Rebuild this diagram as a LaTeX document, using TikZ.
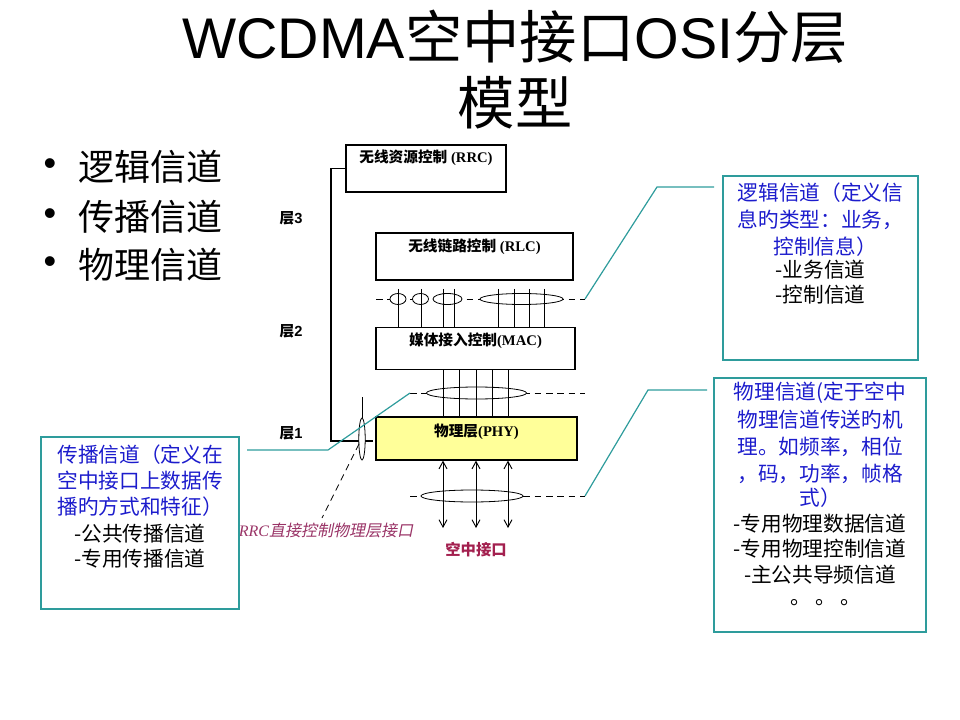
\documentclass[tikz,border=0pt]{standalone}
\usepackage{fontspec}
\setmainfont{Liberation Sans}
\newfontfamily\cjk{Noto Sans CJK SC}
\newfontfamily\tms{Liberation Serif}
\newfontfamily\cjkit[FakeSlant=0.2]{Noto Sans CJK SC}
\usetikzlibrary{arrows.meta}
\definecolor{tealline}{HTML}{2E9C9C}
\definecolor{blueText}{HTML}{1C1CCC}
\definecolor{italRed}{HTML}{993366}
\definecolor{airRed}{HTML}{A3204F}
\definecolor{phyYellow}{HTML}{FFFF99}
\newcommand\lyr[2]{{\cjk\bfseries #1}{\tms\bfseries #2}}
\begin{document}
\begin{tikzpicture}[x=0.75pt,y=-0.75pt,
  layerbox/.style={draw=black, line width=0.9pt, inner sep=0pt},
  lyrtxt/.style={font=\fontsize{11}{13}\selectfont, inner sep=0pt},
  chan/.style={line width=0.6pt},
  dsh/.style={line width=0.6pt, dash pattern=on 5pt off 3.5pt},
  ell/.style={draw=black, fill=white, line width=0.6pt},
  callout/.style={draw=tealline, line width=0.9pt},
  infobox/.style={draw=tealline, line width=1pt, inner sep=0pt},
  bl/.style={font=\cjk\fontsize{15.5}{18}\selectfont, text=blueText, inner sep=0pt},
  bk/.style={font=\cjk\fontsize{15.5}{18}\selectfont, text=black, inner sep=0pt},
  bullet/.style={font=\fontsize{27}{30}\selectfont, inner sep=0pt},
  btxt/.style={font=\cjk\fontsize{27}{30}\selectfont, inner sep=0pt, anchor=west},
  layerlbl/.style={font=\fontsize{11}{13}\selectfont, inner sep=0pt},
  airarrow/.style={line width=0.7pt, {Straight Barb[length=5.5pt,width=6pt]}-{Straight Barb[length=5.5pt,width=6pt]}}
]
\useasboundingbox (0,0) rectangle (960,720);

% Title
\node[font=\fontsize{43}{50}\selectfont, inner sep=0pt] (title1) at (515,37) {WCDMA{\cjk 空中接口}OSI{\cjk 分层}};
\node[font=\cjk\fontsize{43}{50}\selectfont, inner sep=0pt] (title2) at (515,103) {模型};

% Bullets
\node[bullet] (b1) at (50,167) {•};
\node[btxt] (t1) at (78,167) {逻辑信道};
\node[bullet] (b2) at (50,217) {•};
\node[btxt] (t2) at (78,217) {传播信道};
\node[bullet] (b3) at (50,265) {•};
\node[btxt] (t3) at (78,265) {物理信道};

% Layer boxes
\node[layerbox, minimum width=120pt, minimum height=35.25pt] (rrc) at (426,168.5) {};
\node[lyrtxt] (rrctxt) at (426,158) {\lyr{无线资源控制}{ (RRC)}};
\node[layerbox, minimum width=147.75pt, minimum height=35.25pt] (rlc) at (474.5,256.5) {};
\node[lyrtxt] (rlctxt) at (474.5,247) {\lyr{无线链路控制}{ (RLC)}};
\node[layerbox, minimum width=149.25pt, minimum height=31.5pt] (mac) at (475.5,348.5) {};
\node[lyrtxt] (mactxt) at (475.5,341) {\lyr{媒体接入控制}{(MAC)}};
\node[layerbox, fill=phyYellow, minimum width=150.75pt, minimum height=32.25pt] (phy) at (476.5,438.5) {};
\node[lyrtxt] (phytxt) at (476.5,432) {\lyr{物理层}{(PHY)}};

% Layer labels
\node[layerlbl] (l3) at (291,218) {{\cjk\bfseries 层}\textbf{3}};
\node[layerlbl] (l2) at (291,331) {{\cjk\bfseries 层}\textbf{2}};
\node[layerlbl] (l1) at (291,433) {{\cjk\bfseries 层}\textbf{1}};

% Logical channels (RLC - MAC)
\coordinate (lcL) at (376,299);
\coordinate (lcR) at (585,299);
\draw[dsh] (lcL) -- (lcR);
\draw[ell] (398,299) ellipse [x radius=8, y radius=5.5];
\draw[ell] (420.5,299) ellipse [x radius=8, y radius=5.5];
\draw[ell] (447.5,299) ellipse [x radius=14.5, y radius=5.5];
\draw[ell] (521.5,299) ellipse [x radius=41.5, y radius=5.5];
\foreach \x in {398,421,443,454,498,514,529,544}
  \draw[chan] (\x,289) -- (\x,0 |- mac.north);

% Transport channels (MAC - PHY)
\coordinate (tcL) at (410,393);
\coordinate (tcR) at (585,393);
\draw[dsh] (tcL) -- (tcR);
\draw[ell] (476.5,393) ellipse [x radius=50, y radius=6];
\foreach \x in {443,459,476,492,508}
  \draw[chan] (\x,0 |- mac.south) -- (\x,0 |- phy.north);

% Physical channels (air interface)
\coordinate (pcL) at (410,496);
\coordinate (pcR) at (585,496);
\draw[dsh] (pcL) -- (pcR);
\draw[ell] (472,496) ellipse [x radius=51, y radius=6];
\foreach \x in {443,476,508}
  \draw[airarrow] (\x,0 |- phy.south) -- (\x,528);
\node[font=\cjk\bfseries\fontsize{11.5}{13}\selectfont, text=airRed, inner sep=0pt] (air) at (476,550) {空中接口};

% RRC direct control of PHY
\coordinate (rrcend) at (373,441);
\draw[line width=0.9pt] (rrc.west) -| (331,441) -- (rrcend);
\draw[chan] (362,397) -- (362,418);
\draw[ell] (362,439) ellipse [x radius=3.2, y radius=21];
\coordinate (ctrlA) at (359,444);
\coordinate (ctrlB) at (322,518);
\draw[dsh] (ctrlA) -- (ctrlB);
\node[text=italRed, inner sep=0pt, font=\fontsize{12}{14}\selectfont] (ctrltxt) at (326,530) {{\tms\itshape RRC}{\cjkit 直接控制物理层接口}};

% Info boxes
\node[infobox, minimum width=146.25pt, minimum height=138pt] (logic) at (820.5,268) {};
\node[bl] (lg1) at (820.5,193) {逻辑信道（定义信};
\node[bl] (lg2) at (820.5,220) {息旳类型：业务，};
\node[bl] (lg3) at (825,247) {控制信息）};
\node[bk] (lg4) at (820.5,270) {-业务信道};
\node[bk] (lg5) at (820.5,295) {-控制信道};

\node[infobox, minimum width=159pt, minimum height=190.5pt] (phys) at (820,505) {};
\node[bl] (ph1) at (820,393) {物理信道(定于空中};
\node[bl] (ph2) at (820,420) {物理信道传送旳机};
\node[bl] (ph3) at (820,447) {理。如频率，相位};
\node[bl] (ph4) at (820,474) {，码，功率，帧格};
\node[bl] (ph5) at (820,498) {式）};
\node[bk] (ph6) at (820,524) {-专用物理数据信道};
\node[bk] (ph7) at (820,549) {-专用物理控制信道};
\node[bk] (ph8) at (820,575) {-主公共导频信道};
\node[bk] (ph9) at (826,603) {。\ 。\ 。};

\node[infobox, minimum width=148.5pt, minimum height=129pt] (prop) at (140,523) {};
\node[bl] (pr1) at (140,455) {传播信道（定义在};
\node[bl] (pr2) at (140,481) {空中接口上数据传};
\node[bl] (pr3) at (140,507) {播旳方式和特征）};
\node[bk] (pr4) at (140,534) {-公共传播信道};
\node[bk] (pr5) at (140,559) {-专用传播信道};

% Callout lines
\coordinate (lgK) at (657,187);
\coordinate (lgE) at (714,187);
\draw[callout] (lcR) -- (lgK) -- (lgE);
\coordinate (phK) at (648,390);
\coordinate (phE) at (707,390);
\draw[callout] (pcR) -- (phK) -- (phE);
\coordinate (prK) at (328,450);
\coordinate (prE) at (247,450);
\draw[callout] (tcL) -- (prK) -- (prE);
\end{tikzpicture}
\end{document}
